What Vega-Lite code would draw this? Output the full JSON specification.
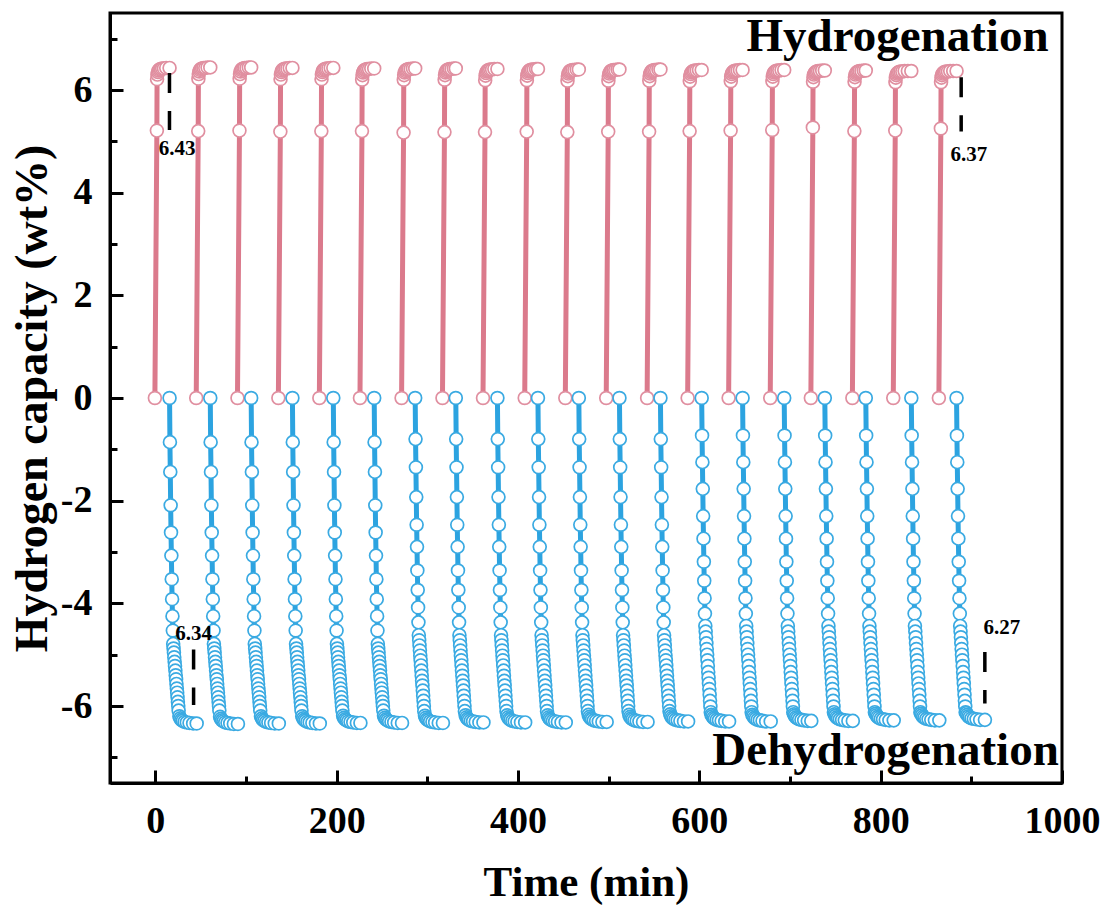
{
"$schema": "https://vega.github.io/schema/vega-lite/v6.json",
"width": 952, "height": 770,
"autosize": {"type": "none"},
"padding": {"left": 110, "top": 13, "right": 45, "bottom": 125},
"background": "white",
"config": {
 "view": {"stroke": "black", "strokeWidth": 3},
 "font": "Liberation Serif",
 "axis": {"domainColor": "black", "domainWidth": 3, "tickColor": "black", "tickWidth": 3, "labelColor": "black", "titleColor": "black", "labelFont": "Liberation Serif", "titleFont": "Liberation Serif", "labelFontSize": 38, "labelFontWeight": "bold", "titleFontWeight": "bold", "grid": false, "labelOverlap": false, "labelFlush": false}
},
"datasets": {
 "hyd": [
{"t":-0.5,"v":0,"c":1},{"t":1.7,"v":5.21,"c":1},{"t":1.9,"v":6.21,"c":1},{"t":2.3,"v":6.30,"c":1},{"t":2.9,"v":6.35,"c":1},{"t":3.7,"v":6.38,"c":1},{"t":4.7,"v":6.40,"c":1},{"t":6.0,"v":6.41,"c":1},{"t":7.5,"v":6.42,"c":1},{"t":9.5,"v":6.42,"c":1},{"t":12.0,"v":6.43,"c":1},{"t":15.7,"v":6.43,"c":1},
{"t":45.1,"v":0,"c":2},{"t":47.3,"v":5.20,"c":2},{"t":47.5,"v":6.22,"c":2},{"t":47.9,"v":6.31,"c":2},{"t":48.5,"v":6.36,"c":2},{"t":49.3,"v":6.39,"c":2},{"t":50.3,"v":6.41,"c":2},{"t":51.6,"v":6.42,"c":2},{"t":53.1,"v":6.43,"c":2},{"t":55.1,"v":6.43,"c":2},{"t":57.6,"v":6.44,"c":2},{"t":60.6,"v":6.44,"c":2},
{"t":90.6,"v":0,"c":3},{"t":92.8,"v":5.21,"c":3},{"t":93.0,"v":6.22,"c":3},{"t":93.4,"v":6.31,"c":3},{"t":94.0,"v":6.36,"c":3},{"t":94.8,"v":6.39,"c":3},{"t":95.8,"v":6.41,"c":3},{"t":97.1,"v":6.42,"c":3},{"t":98.6,"v":6.43,"c":3},{"t":100.6,"v":6.43,"c":3},{"t":103.1,"v":6.44,"c":3},{"t":105.7,"v":6.44,"c":3},
{"t":135.7,"v":0,"c":4},{"t":137.9,"v":5.19,"c":4},{"t":138.1,"v":6.21,"c":4},{"t":138.5,"v":6.30,"c":4},{"t":139.1,"v":6.35,"c":4},{"t":139.9,"v":6.38,"c":4},{"t":140.9,"v":6.40,"c":4},{"t":142.2,"v":6.41,"c":4},{"t":143.7,"v":6.42,"c":4},{"t":145.7,"v":6.42,"c":4},{"t":148.2,"v":6.43,"c":4},{"t":151.2,"v":6.43,"c":4},
{"t":180.9,"v":0,"c":5},{"t":183.1,"v":5.20,"c":5},{"t":183.3,"v":6.21,"c":5},{"t":183.7,"v":6.30,"c":5},{"t":184.3,"v":6.35,"c":5},{"t":185.1,"v":6.38,"c":5},{"t":186.1,"v":6.40,"c":5},{"t":187.4,"v":6.41,"c":5},{"t":188.9,"v":6.42,"c":5},{"t":190.9,"v":6.42,"c":5},{"t":193.4,"v":6.43,"c":5},{"t":196.3,"v":6.43,"c":5},
{"t":225.7,"v":0,"c":6},{"t":227.9,"v":5.20,"c":6},{"t":228.1,"v":6.20,"c":6},{"t":228.5,"v":6.29,"c":6},{"t":229.1,"v":6.34,"c":6},{"t":229.9,"v":6.37,"c":6},{"t":230.9,"v":6.39,"c":6},{"t":232.2,"v":6.40,"c":6},{"t":233.7,"v":6.41,"c":6},{"t":235.7,"v":6.41,"c":6},{"t":238.2,"v":6.42,"c":6},{"t":241.4,"v":6.42,"c":6},
{"t":271.6,"v":0,"c":7},{"t":273.8,"v":5.17,"c":7},{"t":274.0,"v":6.20,"c":7},{"t":274.4,"v":6.29,"c":7},{"t":275.0,"v":6.34,"c":7},{"t":275.8,"v":6.37,"c":7},{"t":276.8,"v":6.39,"c":7},{"t":278.1,"v":6.40,"c":7},{"t":279.6,"v":6.41,"c":7},{"t":281.6,"v":6.41,"c":7},{"t":284.1,"v":6.42,"c":7},{"t":286.6,"v":6.42,"c":7},
{"t":316.7,"v":0,"c":8},{"t":318.9,"v":5.18,"c":8},{"t":319.1,"v":6.20,"c":8},{"t":319.5,"v":6.29,"c":8},{"t":320.1,"v":6.34,"c":8},{"t":320.9,"v":6.37,"c":8},{"t":321.9,"v":6.39,"c":8},{"t":323.2,"v":6.40,"c":8},{"t":324.7,"v":6.41,"c":8},{"t":326.7,"v":6.41,"c":8},{"t":329.2,"v":6.42,"c":8},{"t":331.4,"v":6.42,"c":8},
{"t":361.4,"v":0,"c":9},{"t":363.6,"v":5.18,"c":9},{"t":363.8,"v":6.19,"c":9},{"t":364.2,"v":6.28,"c":9},{"t":364.8,"v":6.33,"c":9},{"t":365.6,"v":6.36,"c":9},{"t":366.6,"v":6.38,"c":9},{"t":367.9,"v":6.39,"c":9},{"t":369.4,"v":6.40,"c":9},{"t":371.4,"v":6.40,"c":9},{"t":373.9,"v":6.41,"c":9},{"t":377.3,"v":6.41,"c":9},
{"t":407.4,"v":0,"c":10},{"t":409.6,"v":5.19,"c":10},{"t":409.8,"v":6.19,"c":10},{"t":410.2,"v":6.28,"c":10},{"t":410.8,"v":6.33,"c":10},{"t":411.6,"v":6.36,"c":10},{"t":412.6,"v":6.38,"c":10},{"t":413.9,"v":6.39,"c":10},{"t":415.4,"v":6.40,"c":10},{"t":417.4,"v":6.40,"c":10},{"t":419.9,"v":6.41,"c":10},{"t":422.0,"v":6.41,"c":10},
{"t":452.2,"v":0,"c":11},{"t":454.4,"v":5.18,"c":11},{"t":454.6,"v":6.18,"c":11},{"t":455.0,"v":6.27,"c":11},{"t":455.6,"v":6.32,"c":11},{"t":456.4,"v":6.35,"c":11},{"t":457.4,"v":6.37,"c":11},{"t":458.7,"v":6.38,"c":11},{"t":460.2,"v":6.39,"c":11},{"t":462.2,"v":6.39,"c":11},{"t":464.7,"v":6.40,"c":11},{"t":467.1,"v":6.40,"c":11},
{"t":497.3,"v":0,"c":12},{"t":499.5,"v":5.19,"c":12},{"t":499.7,"v":6.18,"c":12},{"t":500.1,"v":6.27,"c":12},{"t":500.7,"v":6.32,"c":12},{"t":501.5,"v":6.35,"c":12},{"t":502.5,"v":6.37,"c":12},{"t":503.8,"v":6.38,"c":12},{"t":505.3,"v":6.39,"c":12},{"t":507.3,"v":6.39,"c":12},{"t":509.8,"v":6.40,"c":12},{"t":511.9,"v":6.40,"c":12},
{"t":542.4,"v":0,"c":13},{"t":544.6,"v":5.19,"c":13},{"t":544.8,"v":6.18,"c":13},{"t":545.2,"v":6.27,"c":13},{"t":545.8,"v":6.32,"c":13},{"t":546.6,"v":6.35,"c":13},{"t":547.6,"v":6.37,"c":13},{"t":548.9,"v":6.38,"c":13},{"t":550.4,"v":6.39,"c":13},{"t":552.4,"v":6.39,"c":13},{"t":554.9,"v":6.40,"c":13},{"t":557.1,"v":6.40,"c":13},
{"t":587.1,"v":0,"c":14},{"t":589.3,"v":5.20,"c":14},{"t":589.5,"v":6.17,"c":14},{"t":589.9,"v":6.26,"c":14},{"t":590.5,"v":6.31,"c":14},{"t":591.3,"v":6.34,"c":14},{"t":592.3,"v":6.36,"c":14},{"t":593.6,"v":6.37,"c":14},{"t":595.1,"v":6.38,"c":14},{"t":597.1,"v":6.38,"c":14},{"t":599.6,"v":6.39,"c":14},{"t":602.6,"v":6.39,"c":14},
{"t":632.3,"v":0,"c":15},{"t":634.5,"v":5.21,"c":15},{"t":634.7,"v":6.17,"c":15},{"t":635.1,"v":6.26,"c":15},{"t":635.7,"v":6.31,"c":15},{"t":636.5,"v":6.34,"c":15},{"t":637.5,"v":6.36,"c":15},{"t":638.8,"v":6.37,"c":15},{"t":640.3,"v":6.38,"c":15},{"t":642.3,"v":6.38,"c":15},{"t":644.8,"v":6.39,"c":15},{"t":647.7,"v":6.39,"c":15},
{"t":678.2,"v":0,"c":16},{"t":680.4,"v":5.22,"c":16},{"t":680.6,"v":6.17,"c":16},{"t":681.0,"v":6.26,"c":16},{"t":681.6,"v":6.31,"c":16},{"t":682.4,"v":6.34,"c":16},{"t":683.4,"v":6.36,"c":16},{"t":684.7,"v":6.37,"c":16},{"t":686.2,"v":6.38,"c":16},{"t":688.2,"v":6.38,"c":16},{"t":690.7,"v":6.39,"c":16},{"t":693.6,"v":6.39,"c":16},
{"t":723.0,"v":0,"c":17},{"t":725.2,"v":5.27,"c":17},{"t":725.4,"v":6.16,"c":17},{"t":725.8,"v":6.25,"c":17},{"t":726.4,"v":6.30,"c":17},{"t":727.2,"v":6.33,"c":17},{"t":728.2,"v":6.35,"c":17},{"t":729.5,"v":6.36,"c":17},{"t":731.0,"v":6.37,"c":17},{"t":733.0,"v":6.37,"c":17},{"t":735.5,"v":6.38,"c":17},{"t":738.4,"v":6.38,"c":17},
{"t":768.8,"v":0,"c":18},{"t":771.0,"v":5.20,"c":18},{"t":771.2,"v":6.16,"c":18},{"t":771.6,"v":6.25,"c":18},{"t":772.2,"v":6.30,"c":18},{"t":773.0,"v":6.33,"c":18},{"t":774.0,"v":6.35,"c":18},{"t":775.3,"v":6.36,"c":18},{"t":776.8,"v":6.37,"c":18},{"t":778.8,"v":6.37,"c":18},{"t":781.3,"v":6.38,"c":18},{"t":783.6,"v":6.38,"c":18},
{"t":813.9,"v":0,"c":19},{"t":816.1,"v":5.21,"c":19},{"t":816.3,"v":6.15,"c":19},{"t":816.7,"v":6.24,"c":19},{"t":817.3,"v":6.29,"c":19},{"t":818.1,"v":6.32,"c":19},{"t":819.1,"v":6.34,"c":19},{"t":820.4,"v":6.35,"c":19},{"t":821.9,"v":6.36,"c":19},{"t":823.9,"v":6.36,"c":19},{"t":826.4,"v":6.37,"c":19},{"t":830.0,"v":6.37,"c":19},{"t":833.8,"v":6.37,"c":19},
{"t":864.2,"v":0,"c":20},{"t":866.4,"v":5.25,"c":20},{"t":866.6,"v":6.15,"c":20},{"t":867.0,"v":6.24,"c":20},{"t":867.6,"v":6.29,"c":20},{"t":868.4,"v":6.32,"c":20},{"t":869.4,"v":6.34,"c":20},{"t":870.7,"v":6.35,"c":20},{"t":872.2,"v":6.36,"c":20},{"t":874.2,"v":6.36,"c":20},{"t":876.7,"v":6.37,"c":20},{"t":880.0,"v":6.37,"c":20},{"t":883.7,"v":6.37,"c":20}
 ],
 "dehyd": [
{"t":15.7,"v":0,"c":1},{"t":16.1,"v":-0.86,"c":1},{"t":16.5,"v":-1.44,"c":1},{"t":16.9,"v":-2.09,"c":1},{"t":17.3,"v":-2.62,"c":1},{"t":17.7,"v":-3.07,"c":1},{"t":18.1,"v":-3.53,"c":1},{"t":18.5,"v":-3.92,"c":1},{"t":18.9,"v":-4.25,"c":1},{"t":19.3,"v":-4.53,"c":1},{"t":19.7,"v":-4.79,"c":1},{"t":20.1,"v":-4.88,"c":1},{"t":20.5,"v":-4.96,"c":1},{"t":20.9,"v":-5.05,"c":1},{"t":21.3,"v":-5.14,"c":1},{"t":21.7,"v":-5.22,"c":1},{"t":22.1,"v":-5.31,"c":1},{"t":22.5,"v":-5.40,"c":1},{"t":22.9,"v":-5.48,"c":1},{"t":23.3,"v":-5.57,"c":1},{"t":23.7,"v":-5.66,"c":1},{"t":24.1,"v":-5.74,"c":1},{"t":24.5,"v":-5.83,"c":1},{"t":24.9,"v":-5.92,"c":1},{"t":25.3,"v":-6.00,"c":1},{"t":25.7,"v":-6.09,"c":1},{"t":26.5,"v":-6.20,"c":1},{"t":27.5,"v":-6.24,"c":1},{"t":28.7,"v":-6.27,"c":1},{"t":30.2,"v":-6.29,"c":1},{"t":32.2,"v":-6.31,"c":1},{"t":34.7,"v":-6.32,"c":1},{"t":37.7,"v":-6.33,"c":1},{"t":41.7,"v":-6.34,"c":1},{"t":45.6,"v":-6.34,"c":1},
{"t":60.6,"v":0,"c":2},{"t":61.0,"v":-0.86,"c":2},{"t":61.4,"v":-1.44,"c":2},{"t":61.8,"v":-2.09,"c":2},{"t":62.2,"v":-2.62,"c":2},{"t":62.6,"v":-3.07,"c":2},{"t":63.0,"v":-3.53,"c":2},{"t":63.4,"v":-3.92,"c":2},{"t":63.8,"v":-4.25,"c":2},{"t":64.2,"v":-4.53,"c":2},{"t":64.6,"v":-4.79,"c":2},{"t":65.0,"v":-4.88,"c":2},{"t":65.4,"v":-4.96,"c":2},{"t":65.8,"v":-5.05,"c":2},{"t":66.2,"v":-5.14,"c":2},{"t":66.6,"v":-5.22,"c":2},{"t":67.0,"v":-5.31,"c":2},{"t":67.4,"v":-5.40,"c":2},{"t":67.8,"v":-5.48,"c":2},{"t":68.2,"v":-5.57,"c":2},{"t":68.6,"v":-5.66,"c":2},{"t":69.0,"v":-5.74,"c":2},{"t":69.4,"v":-5.83,"c":2},{"t":69.8,"v":-5.92,"c":2},{"t":70.2,"v":-6.00,"c":2},{"t":70.6,"v":-6.09,"c":2},{"t":71.4,"v":-6.21,"c":2},{"t":72.4,"v":-6.25,"c":2},{"t":73.6,"v":-6.28,"c":2},{"t":75.1,"v":-6.30,"c":2},{"t":77.1,"v":-6.32,"c":2},{"t":79.6,"v":-6.33,"c":2},{"t":82.6,"v":-6.34,"c":2},{"t":86.6,"v":-6.35,"c":2},{"t":91.1,"v":-6.35,"c":2},
{"t":105.7,"v":0,"c":3},{"t":106.1,"v":-0.86,"c":3},{"t":106.5,"v":-1.44,"c":3},{"t":106.9,"v":-2.09,"c":3},{"t":107.3,"v":-2.62,"c":3},{"t":107.7,"v":-3.07,"c":3},{"t":108.1,"v":-3.53,"c":3},{"t":108.5,"v":-3.92,"c":3},{"t":108.9,"v":-4.25,"c":3},{"t":109.3,"v":-4.53,"c":3},{"t":109.7,"v":-4.79,"c":3},{"t":110.1,"v":-4.88,"c":3},{"t":110.5,"v":-4.96,"c":3},{"t":110.9,"v":-5.05,"c":3},{"t":111.3,"v":-5.14,"c":3},{"t":111.7,"v":-5.22,"c":3},{"t":112.1,"v":-5.31,"c":3},{"t":112.5,"v":-5.40,"c":3},{"t":112.9,"v":-5.48,"c":3},{"t":113.3,"v":-5.57,"c":3},{"t":113.7,"v":-5.66,"c":3},{"t":114.1,"v":-5.74,"c":3},{"t":114.5,"v":-5.83,"c":3},{"t":114.9,"v":-5.92,"c":3},{"t":115.3,"v":-6.00,"c":3},{"t":115.7,"v":-6.09,"c":3},{"t":116.5,"v":-6.20,"c":3},{"t":117.5,"v":-6.24,"c":3},{"t":118.7,"v":-6.27,"c":3},{"t":120.2,"v":-6.29,"c":3},{"t":122.2,"v":-6.31,"c":3},{"t":124.7,"v":-6.32,"c":3},{"t":127.7,"v":-6.33,"c":3},{"t":131.7,"v":-6.34,"c":3},{"t":136.2,"v":-6.34,"c":3},
{"t":151.2,"v":0,"c":4},{"t":151.6,"v":-0.86,"c":4},{"t":152.0,"v":-1.44,"c":4},{"t":152.4,"v":-2.09,"c":4},{"t":152.8,"v":-2.62,"c":4},{"t":153.2,"v":-3.07,"c":4},{"t":153.6,"v":-3.53,"c":4},{"t":154.0,"v":-3.92,"c":4},{"t":154.4,"v":-4.25,"c":4},{"t":154.8,"v":-4.53,"c":4},{"t":155.2,"v":-4.79,"c":4},{"t":155.6,"v":-4.88,"c":4},{"t":156.0,"v":-4.96,"c":4},{"t":156.4,"v":-5.05,"c":4},{"t":156.8,"v":-5.14,"c":4},{"t":157.2,"v":-5.22,"c":4},{"t":157.6,"v":-5.31,"c":4},{"t":158.0,"v":-5.40,"c":4},{"t":158.4,"v":-5.48,"c":4},{"t":158.8,"v":-5.57,"c":4},{"t":159.2,"v":-5.66,"c":4},{"t":159.6,"v":-5.74,"c":4},{"t":160.0,"v":-5.83,"c":4},{"t":160.4,"v":-5.92,"c":4},{"t":160.8,"v":-6.00,"c":4},{"t":161.2,"v":-6.09,"c":4},{"t":162.0,"v":-6.20,"c":4},{"t":163.0,"v":-6.24,"c":4},{"t":164.2,"v":-6.27,"c":4},{"t":165.7,"v":-6.29,"c":4},{"t":167.7,"v":-6.31,"c":4},{"t":170.2,"v":-6.32,"c":4},{"t":173.2,"v":-6.33,"c":4},{"t":177.2,"v":-6.34,"c":4},{"t":181.4,"v":-6.34,"c":4},
{"t":196.3,"v":0,"c":5},{"t":196.7,"v":-0.86,"c":5},{"t":197.1,"v":-1.44,"c":5},{"t":197.5,"v":-2.09,"c":5},{"t":197.9,"v":-2.62,"c":5},{"t":198.3,"v":-3.07,"c":5},{"t":198.7,"v":-3.53,"c":5},{"t":199.1,"v":-3.92,"c":5},{"t":199.5,"v":-4.25,"c":5},{"t":199.9,"v":-4.53,"c":5},{"t":200.3,"v":-4.79,"c":5},{"t":200.7,"v":-4.88,"c":5},{"t":201.1,"v":-4.96,"c":5},{"t":201.5,"v":-5.05,"c":5},{"t":201.9,"v":-5.14,"c":5},{"t":202.3,"v":-5.22,"c":5},{"t":202.7,"v":-5.31,"c":5},{"t":203.1,"v":-5.40,"c":5},{"t":203.5,"v":-5.48,"c":5},{"t":203.9,"v":-5.57,"c":5},{"t":204.3,"v":-5.66,"c":5},{"t":204.7,"v":-5.74,"c":5},{"t":205.1,"v":-5.83,"c":5},{"t":205.5,"v":-5.92,"c":5},{"t":205.9,"v":-6.00,"c":5},{"t":206.3,"v":-6.09,"c":5},{"t":207.1,"v":-6.19,"c":5},{"t":208.1,"v":-6.23,"c":5},{"t":209.3,"v":-6.26,"c":5},{"t":210.8,"v":-6.28,"c":5},{"t":212.8,"v":-6.30,"c":5},{"t":215.3,"v":-6.31,"c":5},{"t":218.3,"v":-6.32,"c":5},{"t":222.3,"v":-6.33,"c":5},{"t":226.2,"v":-6.33,"c":5},
{"t":241.4,"v":0,"c":6},{"t":241.8,"v":-0.86,"c":6},{"t":242.2,"v":-1.44,"c":6},{"t":242.6,"v":-2.09,"c":6},{"t":243.0,"v":-2.62,"c":6},{"t":243.4,"v":-3.07,"c":6},{"t":243.8,"v":-3.53,"c":6},{"t":244.2,"v":-3.92,"c":6},{"t":244.6,"v":-4.25,"c":6},{"t":245.0,"v":-4.53,"c":6},{"t":245.4,"v":-4.79,"c":6},{"t":245.8,"v":-4.88,"c":6},{"t":246.2,"v":-4.96,"c":6},{"t":246.6,"v":-5.05,"c":6},{"t":247.0,"v":-5.14,"c":6},{"t":247.4,"v":-5.22,"c":6},{"t":247.8,"v":-5.31,"c":6},{"t":248.2,"v":-5.40,"c":6},{"t":248.6,"v":-5.48,"c":6},{"t":249.0,"v":-5.57,"c":6},{"t":249.4,"v":-5.66,"c":6},{"t":249.8,"v":-5.74,"c":6},{"t":250.2,"v":-5.83,"c":6},{"t":250.6,"v":-5.92,"c":6},{"t":251.0,"v":-6.00,"c":6},{"t":251.4,"v":-6.09,"c":6},{"t":252.2,"v":-6.19,"c":6},{"t":253.2,"v":-6.23,"c":6},{"t":254.4,"v":-6.26,"c":6},{"t":255.9,"v":-6.28,"c":6},{"t":257.9,"v":-6.30,"c":6},{"t":260.4,"v":-6.31,"c":6},{"t":263.4,"v":-6.32,"c":6},{"t":267.4,"v":-6.33,"c":6},{"t":272.1,"v":-6.33,"c":6},
{"t":286.6,"v":0,"c":7},{"t":287.0,"v":-0.80,"c":7},{"t":287.4,"v":-1.35,"c":7},{"t":287.8,"v":-1.93,"c":7},{"t":288.2,"v":-2.47,"c":7},{"t":288.6,"v":-2.90,"c":7},{"t":289.0,"v":-3.36,"c":7},{"t":289.4,"v":-3.74,"c":7},{"t":289.8,"v":-4.08,"c":7},{"t":290.2,"v":-4.37,"c":7},{"t":290.6,"v":-4.62,"c":7},{"t":291.0,"v":-4.72,"c":7},{"t":291.4,"v":-4.82,"c":7},{"t":291.8,"v":-4.92,"c":7},{"t":292.2,"v":-5.02,"c":7},{"t":292.6,"v":-5.11,"c":7},{"t":293.0,"v":-5.21,"c":7},{"t":293.4,"v":-5.31,"c":7},{"t":293.8,"v":-5.41,"c":7},{"t":294.2,"v":-5.51,"c":7},{"t":294.6,"v":-5.60,"c":7},{"t":295.0,"v":-5.70,"c":7},{"t":295.4,"v":-5.80,"c":7},{"t":295.8,"v":-5.90,"c":7},{"t":296.2,"v":-6.00,"c":7},{"t":296.6,"v":-6.10,"c":7},{"t":297.4,"v":-6.19,"c":7},{"t":298.4,"v":-6.23,"c":7},{"t":299.6,"v":-6.26,"c":7},{"t":301.1,"v":-6.28,"c":7},{"t":303.1,"v":-6.30,"c":7},{"t":305.6,"v":-6.31,"c":7},{"t":308.6,"v":-6.32,"c":7},{"t":312.6,"v":-6.33,"c":7},{"t":317.2,"v":-6.33,"c":7},
{"t":331.4,"v":0,"c":8},{"t":331.8,"v":-0.80,"c":8},{"t":332.2,"v":-1.35,"c":8},{"t":332.6,"v":-1.93,"c":8},{"t":333.0,"v":-2.47,"c":8},{"t":333.4,"v":-2.90,"c":8},{"t":333.8,"v":-3.36,"c":8},{"t":334.2,"v":-3.74,"c":8},{"t":334.6,"v":-4.08,"c":8},{"t":335.0,"v":-4.37,"c":8},{"t":335.4,"v":-4.62,"c":8},{"t":335.8,"v":-4.72,"c":8},{"t":336.2,"v":-4.82,"c":8},{"t":336.6,"v":-4.92,"c":8},{"t":337.0,"v":-5.02,"c":8},{"t":337.4,"v":-5.11,"c":8},{"t":337.8,"v":-5.21,"c":8},{"t":338.2,"v":-5.31,"c":8},{"t":338.6,"v":-5.41,"c":8},{"t":339.0,"v":-5.51,"c":8},{"t":339.4,"v":-5.60,"c":8},{"t":339.8,"v":-5.70,"c":8},{"t":340.2,"v":-5.80,"c":8},{"t":340.6,"v":-5.90,"c":8},{"t":341.0,"v":-6.00,"c":8},{"t":341.4,"v":-6.10,"c":8},{"t":342.2,"v":-6.18,"c":8},{"t":343.2,"v":-6.22,"c":8},{"t":344.4,"v":-6.25,"c":8},{"t":345.9,"v":-6.27,"c":8},{"t":347.9,"v":-6.29,"c":8},{"t":350.4,"v":-6.30,"c":8},{"t":353.4,"v":-6.31,"c":8},{"t":357.4,"v":-6.32,"c":8},{"t":361.9,"v":-6.32,"c":8},
{"t":377.3,"v":0,"c":9},{"t":377.7,"v":-0.80,"c":9},{"t":378.1,"v":-1.35,"c":9},{"t":378.5,"v":-1.93,"c":9},{"t":378.9,"v":-2.47,"c":9},{"t":379.3,"v":-2.90,"c":9},{"t":379.7,"v":-3.36,"c":9},{"t":380.1,"v":-3.74,"c":9},{"t":380.5,"v":-4.08,"c":9},{"t":380.9,"v":-4.37,"c":9},{"t":381.3,"v":-4.62,"c":9},{"t":381.7,"v":-4.72,"c":9},{"t":382.1,"v":-4.82,"c":9},{"t":382.5,"v":-4.92,"c":9},{"t":382.9,"v":-5.02,"c":9},{"t":383.3,"v":-5.11,"c":9},{"t":383.7,"v":-5.21,"c":9},{"t":384.1,"v":-5.31,"c":9},{"t":384.5,"v":-5.41,"c":9},{"t":384.9,"v":-5.51,"c":9},{"t":385.3,"v":-5.60,"c":9},{"t":385.7,"v":-5.70,"c":9},{"t":386.1,"v":-5.80,"c":9},{"t":386.5,"v":-5.90,"c":9},{"t":386.9,"v":-6.00,"c":9},{"t":387.3,"v":-6.10,"c":9},{"t":388.1,"v":-6.18,"c":9},{"t":389.1,"v":-6.22,"c":9},{"t":390.3,"v":-6.25,"c":9},{"t":391.8,"v":-6.27,"c":9},{"t":393.8,"v":-6.29,"c":9},{"t":396.3,"v":-6.30,"c":9},{"t":399.3,"v":-6.31,"c":9},{"t":403.3,"v":-6.32,"c":9},{"t":407.9,"v":-6.32,"c":9},
{"t":422.0,"v":0,"c":10},{"t":422.4,"v":-0.80,"c":10},{"t":422.8,"v":-1.35,"c":10},{"t":423.2,"v":-1.93,"c":10},{"t":423.6,"v":-2.47,"c":10},{"t":424.0,"v":-2.90,"c":10},{"t":424.4,"v":-3.36,"c":10},{"t":424.8,"v":-3.74,"c":10},{"t":425.2,"v":-4.08,"c":10},{"t":425.6,"v":-4.37,"c":10},{"t":426.0,"v":-4.62,"c":10},{"t":426.4,"v":-4.72,"c":10},{"t":426.8,"v":-4.82,"c":10},{"t":427.2,"v":-4.92,"c":10},{"t":427.6,"v":-5.02,"c":10},{"t":428.0,"v":-5.11,"c":10},{"t":428.4,"v":-5.21,"c":10},{"t":428.8,"v":-5.31,"c":10},{"t":429.2,"v":-5.41,"c":10},{"t":429.6,"v":-5.51,"c":10},{"t":430.0,"v":-5.60,"c":10},{"t":430.4,"v":-5.70,"c":10},{"t":430.8,"v":-5.80,"c":10},{"t":431.2,"v":-5.90,"c":10},{"t":431.6,"v":-6.00,"c":10},{"t":432.0,"v":-6.10,"c":10},{"t":432.8,"v":-6.18,"c":10},{"t":433.8,"v":-6.22,"c":10},{"t":435.0,"v":-6.25,"c":10},{"t":436.5,"v":-6.27,"c":10},{"t":438.5,"v":-6.29,"c":10},{"t":441.0,"v":-6.30,"c":10},{"t":444.0,"v":-6.31,"c":10},{"t":448.0,"v":-6.32,"c":10},{"t":452.7,"v":-6.32,"c":10},
{"t":467.1,"v":0,"c":11},{"t":467.5,"v":-0.80,"c":11},{"t":467.9,"v":-1.35,"c":11},{"t":468.3,"v":-1.93,"c":11},{"t":468.7,"v":-2.47,"c":11},{"t":469.1,"v":-2.90,"c":11},{"t":469.5,"v":-3.36,"c":11},{"t":469.9,"v":-3.74,"c":11},{"t":470.3,"v":-4.08,"c":11},{"t":470.7,"v":-4.37,"c":11},{"t":471.1,"v":-4.62,"c":11},{"t":471.5,"v":-4.72,"c":11},{"t":471.9,"v":-4.82,"c":11},{"t":472.3,"v":-4.92,"c":11},{"t":472.7,"v":-5.02,"c":11},{"t":473.1,"v":-5.11,"c":11},{"t":473.5,"v":-5.21,"c":11},{"t":473.9,"v":-5.31,"c":11},{"t":474.3,"v":-5.41,"c":11},{"t":474.7,"v":-5.51,"c":11},{"t":475.1,"v":-5.60,"c":11},{"t":475.5,"v":-5.70,"c":11},{"t":475.9,"v":-5.80,"c":11},{"t":476.3,"v":-5.90,"c":11},{"t":476.7,"v":-6.00,"c":11},{"t":477.1,"v":-6.10,"c":11},{"t":477.9,"v":-6.17,"c":11},{"t":478.9,"v":-6.21,"c":11},{"t":480.1,"v":-6.24,"c":11},{"t":481.6,"v":-6.26,"c":11},{"t":483.6,"v":-6.28,"c":11},{"t":486.1,"v":-6.29,"c":11},{"t":489.1,"v":-6.30,"c":11},{"t":493.1,"v":-6.31,"c":11},{"t":497.8,"v":-6.31,"c":11},
{"t":511.9,"v":0,"c":12},{"t":512.3,"v":-0.80,"c":12},{"t":512.7,"v":-1.35,"c":12},{"t":513.1,"v":-1.93,"c":12},{"t":513.5,"v":-2.47,"c":12},{"t":513.9,"v":-2.90,"c":12},{"t":514.3,"v":-3.36,"c":12},{"t":514.7,"v":-3.74,"c":12},{"t":515.1,"v":-4.08,"c":12},{"t":515.5,"v":-4.37,"c":12},{"t":515.9,"v":-4.62,"c":12},{"t":516.3,"v":-4.72,"c":12},{"t":516.7,"v":-4.82,"c":12},{"t":517.1,"v":-4.92,"c":12},{"t":517.5,"v":-5.02,"c":12},{"t":517.9,"v":-5.11,"c":12},{"t":518.3,"v":-5.21,"c":12},{"t":518.7,"v":-5.31,"c":12},{"t":519.1,"v":-5.41,"c":12},{"t":519.5,"v":-5.51,"c":12},{"t":519.9,"v":-5.60,"c":12},{"t":520.3,"v":-5.70,"c":12},{"t":520.7,"v":-5.80,"c":12},{"t":521.1,"v":-5.90,"c":12},{"t":521.5,"v":-6.00,"c":12},{"t":521.9,"v":-6.10,"c":12},{"t":522.7,"v":-6.17,"c":12},{"t":523.7,"v":-6.21,"c":12},{"t":524.9,"v":-6.24,"c":12},{"t":526.4,"v":-6.26,"c":12},{"t":528.4,"v":-6.28,"c":12},{"t":530.9,"v":-6.29,"c":12},{"t":533.9,"v":-6.30,"c":12},{"t":537.9,"v":-6.31,"c":12},{"t":542.9,"v":-6.31,"c":12},
{"t":557.1,"v":0,"c":13},{"t":557.5,"v":-0.80,"c":13},{"t":557.9,"v":-1.35,"c":13},{"t":558.3,"v":-1.93,"c":13},{"t":558.7,"v":-2.47,"c":13},{"t":559.1,"v":-2.90,"c":13},{"t":559.5,"v":-3.36,"c":13},{"t":559.9,"v":-3.74,"c":13},{"t":560.3,"v":-4.08,"c":13},{"t":560.7,"v":-4.37,"c":13},{"t":561.1,"v":-4.62,"c":13},{"t":561.5,"v":-4.72,"c":13},{"t":561.9,"v":-4.82,"c":13},{"t":562.3,"v":-4.92,"c":13},{"t":562.7,"v":-5.02,"c":13},{"t":563.1,"v":-5.11,"c":13},{"t":563.5,"v":-5.21,"c":13},{"t":563.9,"v":-5.31,"c":13},{"t":564.3,"v":-5.41,"c":13},{"t":564.7,"v":-5.51,"c":13},{"t":565.1,"v":-5.60,"c":13},{"t":565.5,"v":-5.70,"c":13},{"t":565.9,"v":-5.80,"c":13},{"t":566.3,"v":-5.90,"c":13},{"t":566.7,"v":-6.00,"c":13},{"t":567.1,"v":-6.10,"c":13},{"t":567.9,"v":-6.16,"c":13},{"t":568.9,"v":-6.20,"c":13},{"t":570.1,"v":-6.23,"c":13},{"t":571.6,"v":-6.25,"c":13},{"t":573.6,"v":-6.27,"c":13},{"t":576.1,"v":-6.28,"c":13},{"t":579.1,"v":-6.29,"c":13},{"t":583.1,"v":-6.30,"c":13},{"t":587.6,"v":-6.30,"c":13},
{"t":602.6,"v":0,"c":14},{"t":603.0,"v":-0.73,"c":14},{"t":603.4,"v":-1.25,"c":14},{"t":603.8,"v":-1.77,"c":14},{"t":604.2,"v":-2.30,"c":14},{"t":604.6,"v":-2.74,"c":14},{"t":605.0,"v":-3.19,"c":14},{"t":605.4,"v":-3.56,"c":14},{"t":605.8,"v":-3.90,"c":14},{"t":606.2,"v":-4.20,"c":14},{"t":606.6,"v":-4.44,"c":14},{"t":607.0,"v":-4.55,"c":14},{"t":607.4,"v":-4.66,"c":14},{"t":607.8,"v":-4.78,"c":14},{"t":608.2,"v":-4.89,"c":14},{"t":608.6,"v":-5.00,"c":14},{"t":609.0,"v":-5.11,"c":14},{"t":609.4,"v":-5.22,"c":14},{"t":609.8,"v":-5.34,"c":14},{"t":610.2,"v":-5.45,"c":14},{"t":610.6,"v":-5.56,"c":14},{"t":611.0,"v":-5.67,"c":14},{"t":611.4,"v":-5.78,"c":14},{"t":611.8,"v":-5.90,"c":14},{"t":612.2,"v":-6.01,"c":14},{"t":612.6,"v":-6.12,"c":14},{"t":613.4,"v":-6.17,"c":14},{"t":614.4,"v":-6.20,"c":14},{"t":615.6,"v":-6.23,"c":14},{"t":617.1,"v":-6.25,"c":14},{"t":619.1,"v":-6.27,"c":14},{"t":621.6,"v":-6.28,"c":14},{"t":624.6,"v":-6.29,"c":14},{"t":628.6,"v":-6.30,"c":14},{"t":632.8,"v":-6.30,"c":14},
{"t":647.7,"v":0,"c":15},{"t":648.1,"v":-0.73,"c":15},{"t":648.5,"v":-1.25,"c":15},{"t":648.9,"v":-1.77,"c":15},{"t":649.3,"v":-2.30,"c":15},{"t":649.7,"v":-2.74,"c":15},{"t":650.1,"v":-3.19,"c":15},{"t":650.5,"v":-3.56,"c":15},{"t":650.9,"v":-3.90,"c":15},{"t":651.3,"v":-4.20,"c":15},{"t":651.7,"v":-4.44,"c":15},{"t":652.1,"v":-4.55,"c":15},{"t":652.5,"v":-4.66,"c":15},{"t":652.9,"v":-4.78,"c":15},{"t":653.3,"v":-4.89,"c":15},{"t":653.7,"v":-5.00,"c":15},{"t":654.1,"v":-5.11,"c":15},{"t":654.5,"v":-5.22,"c":15},{"t":654.9,"v":-5.34,"c":15},{"t":655.3,"v":-5.45,"c":15},{"t":655.7,"v":-5.56,"c":15},{"t":656.1,"v":-5.67,"c":15},{"t":656.5,"v":-5.78,"c":15},{"t":656.9,"v":-5.90,"c":15},{"t":657.3,"v":-6.01,"c":15},{"t":657.7,"v":-6.12,"c":15},{"t":658.5,"v":-6.17,"c":15},{"t":659.5,"v":-6.20,"c":15},{"t":660.7,"v":-6.23,"c":15},{"t":662.2,"v":-6.25,"c":15},{"t":664.2,"v":-6.27,"c":15},{"t":666.7,"v":-6.28,"c":15},{"t":669.7,"v":-6.29,"c":15},{"t":673.7,"v":-6.30,"c":15},{"t":678.7,"v":-6.30,"c":15},
{"t":693.6,"v":0,"c":16},{"t":694.0,"v":-0.73,"c":16},{"t":694.4,"v":-1.25,"c":16},{"t":694.8,"v":-1.77,"c":16},{"t":695.2,"v":-2.30,"c":16},{"t":695.6,"v":-2.74,"c":16},{"t":696.0,"v":-3.19,"c":16},{"t":696.4,"v":-3.56,"c":16},{"t":696.8,"v":-3.90,"c":16},{"t":697.2,"v":-4.20,"c":16},{"t":697.6,"v":-4.44,"c":16},{"t":698.0,"v":-4.55,"c":16},{"t":698.4,"v":-4.66,"c":16},{"t":698.8,"v":-4.78,"c":16},{"t":699.2,"v":-4.89,"c":16},{"t":699.6,"v":-5.00,"c":16},{"t":700.0,"v":-5.11,"c":16},{"t":700.4,"v":-5.22,"c":16},{"t":700.8,"v":-5.34,"c":16},{"t":701.2,"v":-5.45,"c":16},{"t":701.6,"v":-5.56,"c":16},{"t":702.0,"v":-5.67,"c":16},{"t":702.4,"v":-5.78,"c":16},{"t":702.8,"v":-5.90,"c":16},{"t":703.2,"v":-6.01,"c":16},{"t":703.6,"v":-6.12,"c":16},{"t":704.4,"v":-6.16,"c":16},{"t":705.4,"v":-6.19,"c":16},{"t":706.6,"v":-6.22,"c":16},{"t":708.1,"v":-6.24,"c":16},{"t":710.1,"v":-6.26,"c":16},{"t":712.6,"v":-6.27,"c":16},{"t":715.6,"v":-6.28,"c":16},{"t":719.6,"v":-6.29,"c":16},{"t":723.5,"v":-6.29,"c":16},
{"t":738.4,"v":0,"c":17},{"t":738.8,"v":-0.73,"c":17},{"t":739.2,"v":-1.25,"c":17},{"t":739.6,"v":-1.77,"c":17},{"t":740.0,"v":-2.30,"c":17},{"t":740.4,"v":-2.74,"c":17},{"t":740.8,"v":-3.19,"c":17},{"t":741.2,"v":-3.56,"c":17},{"t":741.6,"v":-3.90,"c":17},{"t":742.0,"v":-4.20,"c":17},{"t":742.4,"v":-4.44,"c":17},{"t":742.8,"v":-4.55,"c":17},{"t":743.2,"v":-4.66,"c":17},{"t":743.6,"v":-4.78,"c":17},{"t":744.0,"v":-4.89,"c":17},{"t":744.4,"v":-5.00,"c":17},{"t":744.8,"v":-5.11,"c":17},{"t":745.2,"v":-5.22,"c":17},{"t":745.6,"v":-5.34,"c":17},{"t":746.0,"v":-5.45,"c":17},{"t":746.4,"v":-5.56,"c":17},{"t":746.8,"v":-5.67,"c":17},{"t":747.2,"v":-5.78,"c":17},{"t":747.6,"v":-5.90,"c":17},{"t":748.0,"v":-6.01,"c":17},{"t":748.4,"v":-6.12,"c":17},{"t":749.2,"v":-6.16,"c":17},{"t":750.2,"v":-6.19,"c":17},{"t":751.4,"v":-6.22,"c":17},{"t":752.9,"v":-6.24,"c":17},{"t":754.9,"v":-6.26,"c":17},{"t":757.4,"v":-6.27,"c":17},{"t":760.4,"v":-6.28,"c":17},{"t":764.4,"v":-6.29,"c":17},{"t":769.3,"v":-6.29,"c":17},
{"t":783.6,"v":0,"c":18},{"t":784.0,"v":-0.73,"c":18},{"t":784.4,"v":-1.25,"c":18},{"t":784.8,"v":-1.77,"c":18},{"t":785.2,"v":-2.30,"c":18},{"t":785.6,"v":-2.74,"c":18},{"t":786.0,"v":-3.19,"c":18},{"t":786.4,"v":-3.56,"c":18},{"t":786.8,"v":-3.90,"c":18},{"t":787.2,"v":-4.20,"c":18},{"t":787.6,"v":-4.44,"c":18},{"t":788.0,"v":-4.55,"c":18},{"t":788.4,"v":-4.66,"c":18},{"t":788.8,"v":-4.78,"c":18},{"t":789.2,"v":-4.89,"c":18},{"t":789.6,"v":-5.00,"c":18},{"t":790.0,"v":-5.11,"c":18},{"t":790.4,"v":-5.22,"c":18},{"t":790.8,"v":-5.34,"c":18},{"t":791.2,"v":-5.45,"c":18},{"t":791.6,"v":-5.56,"c":18},{"t":792.0,"v":-5.67,"c":18},{"t":792.4,"v":-5.78,"c":18},{"t":792.8,"v":-5.90,"c":18},{"t":793.2,"v":-6.01,"c":18},{"t":793.6,"v":-6.12,"c":18},{"t":794.4,"v":-6.15,"c":18},{"t":795.4,"v":-6.18,"c":18},{"t":796.6,"v":-6.21,"c":18},{"t":798.1,"v":-6.23,"c":18},{"t":800.1,"v":-6.25,"c":18},{"t":802.6,"v":-6.26,"c":18},{"t":805.6,"v":-6.27,"c":18},{"t":809.6,"v":-6.28,"c":18},{"t":814.4,"v":-6.28,"c":18},
{"t":833.8,"v":0,"c":19},{"t":834.2,"v":-0.73,"c":19},{"t":834.6,"v":-1.25,"c":19},{"t":835.0,"v":-1.77,"c":19},{"t":835.4,"v":-2.30,"c":19},{"t":835.8,"v":-2.74,"c":19},{"t":836.2,"v":-3.19,"c":19},{"t":836.6,"v":-3.56,"c":19},{"t":837.0,"v":-3.90,"c":19},{"t":837.4,"v":-4.20,"c":19},{"t":837.8,"v":-4.44,"c":19},{"t":838.2,"v":-4.55,"c":19},{"t":838.6,"v":-4.66,"c":19},{"t":839.0,"v":-4.78,"c":19},{"t":839.4,"v":-4.89,"c":19},{"t":839.8,"v":-5.00,"c":19},{"t":840.2,"v":-5.11,"c":19},{"t":840.6,"v":-5.22,"c":19},{"t":841.0,"v":-5.34,"c":19},{"t":841.4,"v":-5.45,"c":19},{"t":841.8,"v":-5.56,"c":19},{"t":842.2,"v":-5.67,"c":19},{"t":842.6,"v":-5.78,"c":19},{"t":843.0,"v":-5.90,"c":19},{"t":843.4,"v":-6.01,"c":19},{"t":843.8,"v":-6.12,"c":19},{"t":844.6,"v":-6.15,"c":19},{"t":845.6,"v":-6.18,"c":19},{"t":846.8,"v":-6.21,"c":19},{"t":848.3,"v":-6.23,"c":19},{"t":850.3,"v":-6.25,"c":19},{"t":852.8,"v":-6.26,"c":19},{"t":855.8,"v":-6.27,"c":19},{"t":859.8,"v":-6.28,"c":19},{"t":864.7,"v":-6.28,"c":19},
{"t":883.7,"v":0,"c":20},{"t":884.1,"v":-0.73,"c":20},{"t":884.5,"v":-1.25,"c":20},{"t":884.9,"v":-1.77,"c":20},{"t":885.3,"v":-2.30,"c":20},{"t":885.7,"v":-2.74,"c":20},{"t":886.1,"v":-3.19,"c":20},{"t":886.5,"v":-3.56,"c":20},{"t":886.9,"v":-3.90,"c":20},{"t":887.3,"v":-4.20,"c":20},{"t":887.7,"v":-4.44,"c":20},{"t":888.1,"v":-4.55,"c":20},{"t":888.5,"v":-4.66,"c":20},{"t":888.9,"v":-4.78,"c":20},{"t":889.3,"v":-4.89,"c":20},{"t":889.7,"v":-5.00,"c":20},{"t":890.1,"v":-5.11,"c":20},{"t":890.5,"v":-5.22,"c":20},{"t":890.9,"v":-5.34,"c":20},{"t":891.3,"v":-5.45,"c":20},{"t":891.7,"v":-5.56,"c":20},{"t":892.1,"v":-5.67,"c":20},{"t":892.5,"v":-5.78,"c":20},{"t":892.9,"v":-5.90,"c":20},{"t":893.3,"v":-6.01,"c":20},{"t":893.7,"v":-6.12,"c":20},{"t":894.5,"v":-6.14,"c":20},{"t":895.5,"v":-6.17,"c":20},{"t":896.7,"v":-6.20,"c":20},{"t":898.2,"v":-6.22,"c":20},{"t":900.2,"v":-6.24,"c":20},{"t":902.7,"v":-6.25,"c":20},{"t":905.7,"v":-6.26,"c":20},{"t":909.7,"v":-6.27,"c":20},{"t":915.0,"v":-6.27,"c":20}
 ],
 "guides": [
  {"t":15.6,"v":6.33,"v2":5.22},
  {"t":888.8,"v":6.25,"v2":5.19},
  {"t":42.2,"v":-4.90,"v2":-5.98},
  {"t":914.9,"v":-4.95,"v2":-5.95}
 ],
 "values": [
  {"t":23.9,"v":4.85,"s":"6.43"},
  {"t":897.3,"v":4.74,"s":"6.37"},
  {"t":42.2,"v":-4.59,"s":"6.34"},
  {"t":933.6,"v":-4.48,"s":"6.27"}
 ],
 "stages": [
  {"t":818.6,"v":6.76,"s":"Hydrogenation"},
  {"t":805.4,"v":-7.15,"s":"Dehydrogenation"}
 ]
},
"encoding": {
 "x": {"field": "t", "type": "quantitative", "scale": {"domain": [-50, 1000], "nice": false, "zero": false},
  "axis": {"title": "Time (min)", "titleFontSize": 43, "values": [0,100,200,300,400,500,600,700,800,900,1000],
   "labelExpr": "datum.value % 200 === 0 ? '' + datum.value : ''",
   "tickSize": {"condition": {"test": "datum.value % 200 !== 0", "value": -7}, "value": -13},
   "labelPadding": 32, "titlePadding": 15}},
 "y": {"field": "v", "type": "quantitative", "scale": {"domain": [-7.5, 7.5], "nice": false, "zero": false},
  "axis": {"title": "Hydrogen capacity (wt%)", "titleFontSize": 46, "values": [-7,-6,-5,-4,-3,-2,-1,0,1,2,3,4,5,6,7],
   "labelExpr": "datum.value % 2 === 0 ? '' + datum.value : ''",
   "tickSize": {"condition": {"test": "datum.value % 2 !== 0", "value": -7}, "value": -13},
   "labelPadding": 31, "titlePadding": 4}}
},
"layer": [
 {"data": {"name": "hyd"}, "mark": {"type": "line", "color": "#db7a8c", "strokeWidth": 5}, "encoding": {"detail": {"field": "c"}}},
 {"data": {"name": "dehyd"}, "mark": {"type": "line", "color": "#2ca3e0", "strokeWidth": 5}, "encoding": {"detail": {"field": "c"}}},
 {"data": {"name": "hyd"}, "mark": {"type": "point", "shape": "circle", "size": 165, "fill": "white", "stroke": "#e08fa0", "strokeWidth": 1.7, "opacity": 1, "fillOpacity": 1}},
 {"data": {"name": "dehyd"}, "mark": {"type": "point", "shape": "circle", "size": 165, "fill": "white", "stroke": "#3aaae2", "strokeWidth": 1.7, "opacity": 1, "fillOpacity": 1}},
 {"data": {"name": "guides"}, "mark": {"type": "rule", "color": "black", "strokeWidth": 3.5, "strokeDash": [20, 18]}, "encoding": {"y2": {"field": "v2"}}},
 {"data": {"name": "values"}, "mark": {"type": "text", "font": "Liberation Serif", "fontWeight": "bold", "fontSize": 21, "color": "black", "align": "center", "baseline": "middle"}, "encoding": {"text": {"field": "s"}}},
 {"data": {"name": "stages"}, "mark": {"type": "text", "font": "Liberation Serif", "fontWeight": "bold", "fontSize": 47, "color": "black", "align": "center", "baseline": "alphabetic"}, "encoding": {"text": {"field": "s"}}}
]
}
